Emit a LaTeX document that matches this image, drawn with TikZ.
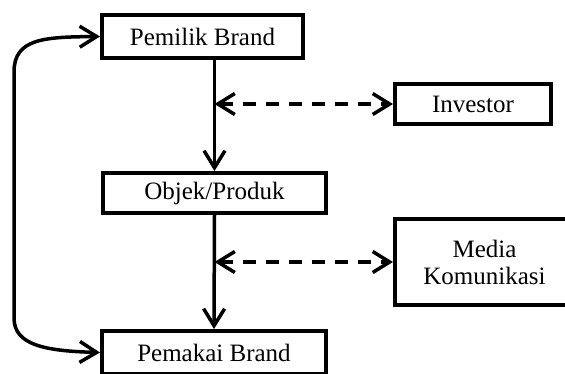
\documentclass[tikz,border=0pt]{standalone}
\usepackage{fontspec}
\setmainfont{Liberation Serif}
\usetikzlibrary{arrows.meta}
\begin{document}
\begin{tikzpicture}[x=1pt,y=-1pt,
  box/.style={draw=black,line width=4pt,fill=white,inner sep=0pt,
    font=\fontsize{25}{29}\selectfont,align=center},
  barb/.tip={Straight Barb[length=17pt,width=21pt,line width=3.5pt]},
  flow/.style={line width=3.5pt,-barb},
  link/.style={line width=3.5pt,dash pattern=on 13pt off 10pt,barb-barb},
  loop/.style={line width=3.5pt,barb-barb}]
\useasboundingbox[fill=white] (0,0) rectangle (565,373);

% boxes
\node[box,minimum width=201pt,minimum height=43pt] (pemilik) at (202.5,36.5) {Pemilik Brand};
\node[box,minimum width=156pt,minimum height=40pt] (investor) at (473,104) {Investor};
\node[box,minimum width=223pt,minimum height=40pt] (objek) at (214.5,193) {Objek/Produk};
\node[box,minimum width=179pt,minimum height=86pt] (media) at (484.5,262) {Media\\[-2pt]Komunikasi};
\node[box,minimum width=224pt,minimum height=43pt] (pemakai) at (214,352.5) {Pemakai Brand};

% main flow
\coordinate (top) at (objek.north |- pemilik.south);
\draw[flow] (top) -- (objek.north);
\draw[flow] (objek.south) -- (pemakai.north);

% side links
\coordinate (inv) at (objek.north |- investor.west);
\coordinate (med) at (objek.north |- media.west);
\draw[link] (inv) -- (investor.west);
\draw[link] (med) -- (media.west);

% feedback loop
\draw[loop] (pemilik.west) .. controls (45,37) and (14,38) .. (14,72)
  -- (14,318) .. controls (14,345) and (45,351) .. (pemakai.west);
\end{tikzpicture}
\end{document}
